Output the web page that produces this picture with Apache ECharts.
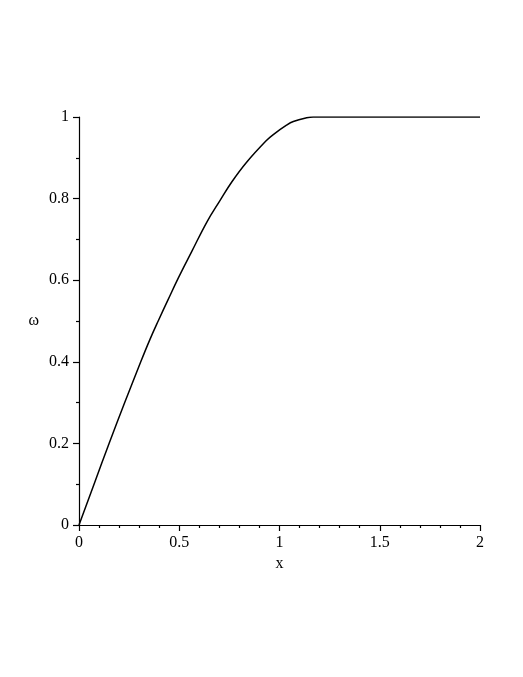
<!DOCTYPE html>
<html>
<head>
<meta charset="utf-8">
<style>
html,body{margin:0;padding:0;background:#fff;}
#chart{width:523px;height:677px;}
</style>
<script src="https://cdn.jsdelivr.net/npm/echarts@6/dist/echarts.min.js"></script>
</head>
<body>
<div id="chart"></div>
<script>
// Values
const xValues = [0, 0.075, 0.150, 0.228, 0.308, 0.354, 0.395, 0.445, 0.495, 0.562, 0.637, 0.703, 0.761, 0.836, 0.936, 0.969, 1.035, 1.069, 1.135, 1.168, 2];
const omegaValues = [0, 0.100, 0.200, 0.300, 0.400, 0.455, 0.500, 0.553, 0.605, 0.670, 0.742, 0.795, 0.840, 0.889, 0.943, 0.957, 0.980, 0.989, 0.998, 1.000, 1.000];
const xTicks = [0, 0.5, 1, 1.5, 2];
const yTicks = [0, 0.2, 0.4, 0.6, 0.8, 1];
const xName = 'x';
const yName = 'ω';

const seriesData = xValues.map((x, i) => [x, omegaValues[i]]);
const font = "'Liberation Serif', 'Times New Roman', serif";
const axisCommon = {
  type: 'value',
  axisLine: { show: true, onZero: false, lineStyle: { color: '#000', width: 1.2 } },
  axisTick: { show: true, length: 6, lineStyle: { color: '#000', width: 1.2 } },
  minorTick: { show: true, length: 3, lineStyle: { color: '#000', width: 1.2 } },
  splitLine: { show: false },
  minorSplitLine: { show: false },
  axisLabel: { color: '#000', fontFamily: font, fontSize: 16 },
  nameTextStyle: { color: '#000', fontFamily: font, fontSize: 16 }
};

const chart = echarts.init(document.getElementById('chart'), null, { renderer: 'canvas' });
chart.setOption({
  backgroundColor: '#fff',
  animation: false,
  grid: { left: 79, top: 117, width: 401, height: 408, containLabel: false },
  xAxis: Object.assign({}, axisCommon, {
    min: xTicks[0], max: xTicks[xTicks.length - 1], interval: xTicks[1] - xTicks[0],
    minorTick: Object.assign({}, axisCommon.minorTick, { splitNumber: 5 }),
    axisLabel: Object.assign({}, axisCommon.axisLabel, { margin: 10 }),
    name: xName, nameLocation: 'middle', nameGap: 31
  }),
  yAxis: Object.assign({}, axisCommon, {
    min: yTicks[0], max: yTicks[yTicks.length - 1], interval: yTicks[1] - yTicks[0],
    minorTick: Object.assign({}, axisCommon.minorTick, { splitNumber: 2 }),
    axisLabel: Object.assign({}, axisCommon.axisLabel, { margin: 10 }),
    name: yName, nameLocation: 'middle', nameRotate: 0, nameGap: 40
  }),
  series: [{
    type: 'line',
    data: seriesData,
    showSymbol: false,
    smooth: 0.4,
    lineStyle: { color: '#000', width: 1.5 }
  }]
});
</script>
</body>
</html>
